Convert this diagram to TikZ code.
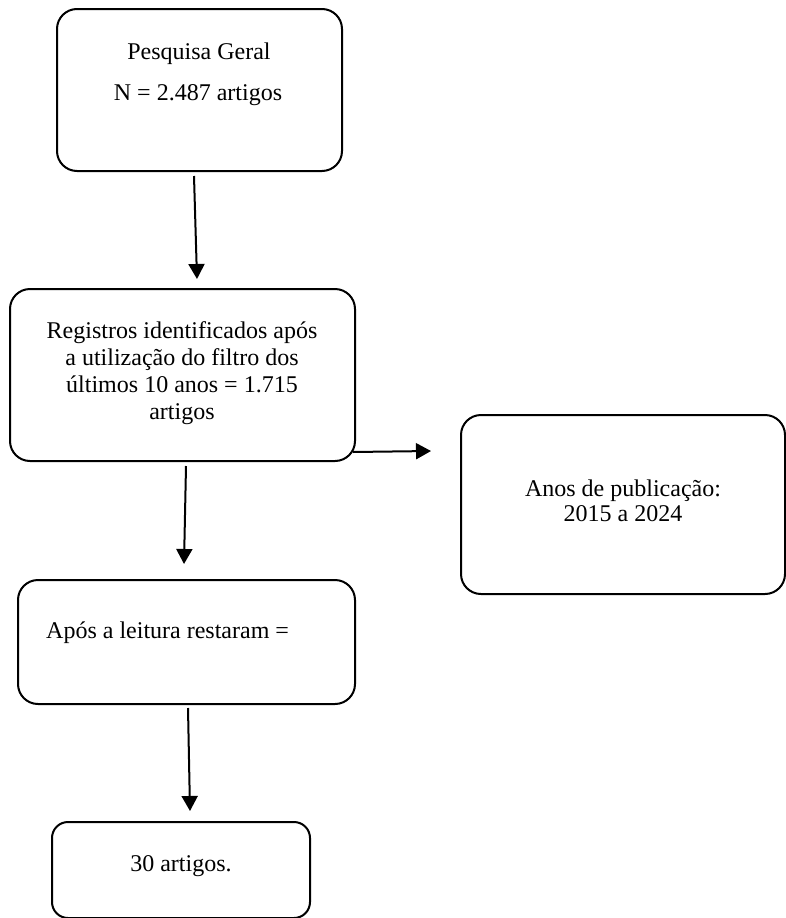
\documentclass[tikz,border=0pt]{standalone}
\usepackage{fontspec}
\setmainfont{Liberation Serif}
\usetikzlibrary{arrows.meta}
\begin{document}
\begin{tikzpicture}[x=1pt,y=-1pt,
  box/.style={draw=black,line width=2pt,rounded corners=20pt,inner sep=0pt},
  txt/.style={inner sep=0pt,font=\fontsize{24}{27}\selectfont},
  arr/.style={line width=2pt,-{Triangle[length=15pt,width=16pt]}}]
\useasboundingbox (0,0) rectangle (786,918);
% boxes
\node[box,minimum width=285pt,minimum height=162pt] (b1) at (199.5,90) {};
\node[box,minimum width=345pt,minimum height=172pt] (b2) at (182.5,375) {};
\node[box,minimum width=324pt,minimum height=179pt] (b3) at (623,504.5) {};
\node[box,minimum width=337pt,minimum height=124pt] (b4) at (186.5,642) {};
\node[box,minimum width=258pt,minimum height=96pt,rounded corners=16pt] (b5) at (181,870) {};
% texts
\node[txt,anchor=base] (t1a) at (199,59) {Pesquisa Geral};
\node[txt,anchor=base] (t1b) at (198,100) {N = 2.487 artigos};
\node[txt,anchor=base,align=center] (t2) at (182,419) {Registros identificados após\\a utilização do filtro dos\\últimos 10 anos = 1.715\\artigos};
\node[txt,anchor=base,align=center,font=\fontsize{24}{25}\selectfont] (t3) at (623,521) {Anos de publicação:\\2015 a 2024};
\node[txt,anchor=base west] (t4) at (46,638) {Após a leitura restaram =};
\node[txt,anchor=base] (t5) at (181,871) {30 artigos.};
% arrows
\draw[arr] ([xshift=-5.5pt,yshift=-4pt]b1.south) -- ([xshift=14.5pt,yshift=9pt]b2.north);
\draw[arr] ([xshift=-3pt,yshift=10pt]b2.south east) -- ([xshift=-29pt,yshift=53.5pt]b3.west);
\draw[arr] ([xshift=3.5pt,yshift=-4pt]b2.south) -- ([xshift=-2.5pt,yshift=15pt]b4.north);
\draw[arr] ([xshift=1.5pt,yshift=-3pt]b4.south) -- ([xshift=9pt,yshift=10pt]b5.north);
\end{tikzpicture}
\end{document}
